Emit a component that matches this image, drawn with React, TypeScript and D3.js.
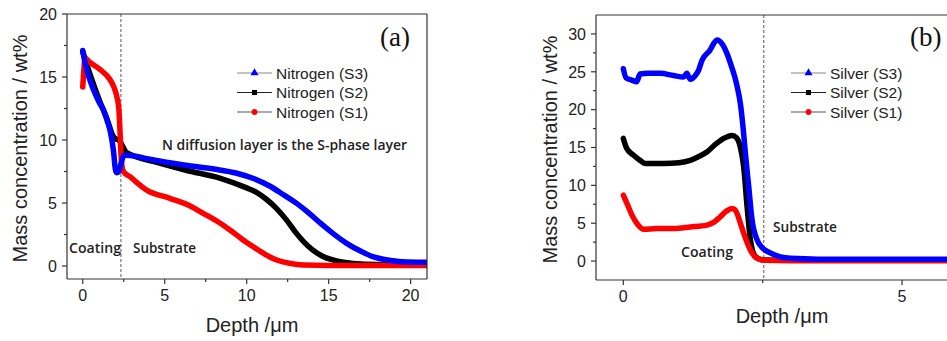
import React from "react";
import * as d3 from "d3";

type P = [number, number];

// Panel (a): Nitrogen depth profiles
const nitrogenS3: P[] = [[0,17.1],[0.2,15.8],[0.65,14],[1.0,13],[1.26,12.4],[1.5,11.5],[1.66,10.8],[1.87,9.2],[2.0,7.6],[2.07,7.4],[2.2,7.5],[2.35,8.2],[2.5,8.75],[2.7,8.8],[4,8.5],[5,8.25],[6.3,8.0],[8,7.7],[9.4,7.36],[10.5,6.9],[11.4,6.35],[12.2,5.7],[13.05,4.97],[13.8,4.2],[14.5,3.4],[15.3,2.55],[16.1,1.8],[17,1.15],[17.7,0.74],[18.5,0.5],[19.5,0.34],[21.2,0.3]];
const nitrogenS2: P[] = [[0,17],[0.15,16.4],[0.5,15],[1.0,13.2],[1.5,11.6],[1.85,10.3],[2.0,10.1],[2.2,10.0],[2.4,9.6],[2.6,9.1],[3,8.8],[4.3,8.3],[6.3,7.6],[8.4,6.96],[10,6.2],[10.6,5.85],[11.2,5.3],[11.8,4.6],[12.4,3.7],[13,2.65],[13.5,1.9],[14,1.3],[14.6,0.8],[15.2,0.5],[16.5,0.2],[18,0.12],[21.2,0.1]];
const nitrogenS1: P[] = [[0,14.2],[0.05,15.2],[0.14,16.5],[0.4,16.2],[1.05,15.6],[1.66,14.8],[1.9,14.2],[2.07,13.5],[2.2,12.5],[2.28,10.5],[2.35,8.5],[2.48,7.5],[2.88,7.09],[3.9,6.03],[5.32,5.37],[6.5,4.8],[7.35,4.18],[8.2,3.55],[8.98,2.86],[9.7,2.15],[10.4,1.53],[11.1,0.95],[11.83,0.48],[12.6,0.22],[13.45,0.08],[15,0.05],[21.2,0.05]];

// Panel (b): Silver depth profiles
const silverS3: P[] = [[0,25.4],[0.05,24.2],[0.15,23.9],[0.24,23.7],[0.3,24.7],[0.45,24.8],[0.66,24.8],[0.9,24.5],[1.08,24.3],[1.14,24.8],[1.2,24.0],[1.3,24.6],[1.35,25.2],[1.41,26.5],[1.55,27.8],[1.68,29.2],[1.78,28.6],[1.86,27.4],[1.95,25.5],[2.0,24.3],[2.05,22.8],[2.1,20.8],[2.15,17.5],[2.19,14.2],[2.25,9.8],[2.31,5.4],[2.4,2.8],[2.5,1.7],[2.6,1.2],[2.8,0.6],[3.0,0.36],[3.5,0.25],[6,0.25]];
const silverS2: P[] = [[0,16.2],[0.06,14.9],[0.18,14.0],[0.3,13.3],[0.39,12.9],[0.72,12.9],[1.0,13.0],[1.2,13.3],[1.35,13.8],[1.5,14.4],[1.65,15.4],[1.8,16.2],[1.95,16.6],[2.03,16.3],[2.1,15.0],[2.16,12.4],[2.22,7.2],[2.28,2.8],[2.37,0.6],[2.5,0.15],[3,0.1],[6,0.1]];
const silverS1: P[] = [[0,8.7],[0.09,7.2],[0.16,6.0],[0.24,5.0],[0.36,4.2],[0.6,4.3],[0.9,4.3],[1.2,4.5],[1.5,4.75],[1.62,5.1],[1.74,5.85],[1.85,6.6],[1.95,6.95],[2.0,6.8],[2.04,6.3],[2.1,5.0],[2.16,3.65],[2.28,1.45],[2.4,0.36],[2.55,0.1],[3,0.05],[6,0.05]];

const xTicksA = [0, 5, 10, 15, 20];
const xMinorA = [2.5, 7.5, 12.5, 17.5];
const yTicksA = [0, 5, 10, 15, 20];
const yMinorA = [2.5, 7.5, 12.5, 17.5];
const xTicksB = [0, 5];
const xMinorB = [2.5];
const yTicksB = [0, 5, 10, 15, 20, 25, 30];
const yMinorB = [2.5, 7.5, 12.5, 17.5, 22.5, 27.5];

const legendA = ["Nitrogen (S3)", "Nitrogen (S2)", "Nitrogen (S1)"];
const legendB = ["Silver (S3)", "Silver (S2)", "Silver (S1)"];
const colors = ["#0000ff", "#000000", "#ff0000"];
const legendLineColors = ["#888", "#222", "#555"];

const FONT = "'Liberation Sans', Arial, sans-serif";
const NOTE_FONT = "'Open Sans', 'Noto Sans', sans-serif";
const AXIS = "#333";

type PanelProps = {
  left: number; right: number; top: number; bottom: number;
  xDomain: [number, number]; yDomain: [number, number];
  xTicks: number[]; xMinor: number[]; yTicks: number[]; yMinor: number[];
  series: P[][]; legend: string[]; legendX: number;
  dashX: number; label: string; labelX: number;
  yLabelX: number; xLabelX: number; xLabelY: number;
  showRight: boolean; id: string;
  notes: { text: string; x: number; y: number; w: number }[];
};

function Panel(p: PanelProps) {
  const x = d3.scaleLinear().domain(p.xDomain).range([p.left, p.right]);
  const y = d3.scaleLinear().domain(p.yDomain).range([p.bottom, p.top]);
  const line = d3.line<P>().x(d => x(d[0])).y(d => y(d[1])).curve(d3.curveMonotoneX);
  const drawOrder = [1, 2, 0];
  const tri = d3.symbol().type(d3.symbolTriangle).size(28)() as string;
  const sq = d3.symbol().type(d3.symbolSquare).size(26)() as string;
  const circ = d3.symbol().type(d3.symbolCircle).size(26)() as string;
  const markers = [tri, sq, circ];
  return (
    <g>
      <defs>
        <clipPath id={p.id}>
          <rect x={p.left} y={p.top} width={p.right - p.left} height={p.bottom - p.top} />
        </clipPath>
      </defs>
      <g clipPath={`url(#${p.id})`}>
        <line x1={x(p.dashX)} x2={x(p.dashX)} y1={p.top} y2={p.bottom} stroke="#555" strokeWidth={1} strokeDasharray="3,2" />
        {drawOrder.map(i => (
          <path key={i} d={line(p.series[i]) || ""} fill="none" stroke={colors[i]} strokeWidth={5.5} strokeLinejoin="round" strokeLinecap="round" />
        ))}
      </g>
      <line x1={p.left} x2={p.right} y1={p.top} y2={p.top} stroke={AXIS} strokeWidth={1.2} />
      <line x1={p.left} x2={p.right} y1={p.bottom} y2={p.bottom} stroke={AXIS} strokeWidth={1.2} />
      <line x1={p.left} x2={p.left} y1={p.top} y2={p.bottom} stroke={AXIS} strokeWidth={1.2} />
      {p.showRight && <line x1={p.right} x2={p.right} y1={p.top} y2={p.bottom} stroke={AXIS} strokeWidth={1.2} />}
      {p.xTicks.map(t => (
        <g key={"xt" + t}>
          <line x1={x(t)} x2={x(t)} y1={p.bottom} y2={p.bottom + 5} stroke={AXIS} strokeWidth={1.2} />
          <text x={x(t)} y={p.bottom + 22} textAnchor="middle" fontFamily={FONT} fontSize={16} fill="#222">{t}</text>
        </g>
      ))}
      {p.xMinor.map(t => (
        <line key={"xm" + t} x1={x(t)} x2={x(t)} y1={p.bottom} y2={p.bottom + 3} stroke={AXIS} strokeWidth={1.2} />
      ))}
      {p.yTicks.map(t => (
        <g key={"yt" + t}>
          <line x1={p.left - 5} x2={p.left} y1={y(t)} y2={y(t)} stroke={AXIS} strokeWidth={1.2} />
          <text x={p.left - 10} y={y(t)} dy="0.36em" textAnchor="end" fontFamily={FONT} fontSize={16} fill="#222">{t}</text>
        </g>
      ))}
      {p.yMinor.map(t => (
        <line key={"ym" + t} x1={p.left - 3} x2={p.left} y1={y(t)} y2={y(t)} stroke={AXIS} strokeWidth={1.2} />
      ))}
      <text transform={`translate(${p.yLabelX},${(p.top + p.bottom) / 2 + 2}) rotate(-90)`} textAnchor="middle" fontFamily={FONT} fontSize={20} fill="#222">Mass concentration / wt%</text>
      <text x={p.xLabelX} y={p.xLabelY} textAnchor="middle" fontFamily={FONT} fontSize={20} fill="#222">Depth /μm</text>
      <text x={p.labelX} y={46} fontFamily="'Liberation Serif', 'Times New Roman', serif" fontSize={27} fill="#111">{p.label}</text>
      {p.legend.map((name, i) => {
        const ly = 73 + i * 19.5;
        return (
          <g key={name}>
            <line x1={p.legendX} x2={p.legendX + 35} y1={ly} y2={ly} stroke={legendLineColors[i]} strokeWidth={1.2} />
            <path d={markers[i]} transform={`translate(${p.legendX + 17.5},${ly})`} fill={colors[i]} />
            <text x={p.legendX + 39} y={ly} dy="0.36em" fontFamily={FONT} fontSize={15.5} fill="#222">{name}</text>
          </g>
        );
      })}
      {p.notes.map(n => (
        <text key={n.text} x={n.x} y={n.y} dy="0.36em" fontFamily={NOTE_FONT} fontSize={14} fontWeight={600} fill="#222" textLength={n.w} lengthAdjust="spacingAndGlyphs">{n.text}</text>
      ))}
    </g>
  );
}

export default function App() {
  return (
    <svg width={947} height={341} style={{ display: "block", position: "absolute", left: 0, top: 0, background: "#fff" }}>
      <rect width={947} height={341} fill="#fff" />
      <Panel id="clipA" left={67} right={427} top={14} bottom={279}
        xDomain={[-0.96, 21]} yDomain={[-1.03, 20]}
        xTicks={xTicksA} xMinor={xMinorA} yTicks={yTicksA} yMinor={yMinorA}
        series={[nitrogenS3, nitrogenS2, nitrogenS1]} legend={legendA} legendX={237}
        dashX={2.33} label="(a)" labelX={380} yLabelX={27} xLabelX={252} xLabelY={332}
        showRight={true}
        notes={[
          { text: "N diffusion layer is the S-phase layer", x: 162, y: 145, w: 245 },
          { text: "Coating", x: 69, y: 248, w: 52 },
          { text: "Substrate", x: 133, y: 248, w: 63 },
        ]} />
      <Panel id="clipB" left={596} right={955} top={15} bottom={280}
        xDomain={[-0.49, 5.95]} yDomain={[-2.5, 32.5]}
        xTicks={xTicksB} xMinor={xMinorB} yTicks={yTicksB} yMinor={yMinorB}
        series={[silverS3, silverS2, silverS1]} legend={legendB} legendX={791}
        dashX={2.52} label="(b)" labelX={910} yLabelX={557} xLabelX={782} xLabelY={323}
        showRight={false}
        notes={[
          { text: "Substrate", x: 773, y: 227, w: 64 },
          { text: "Coating", x: 681, y: 252, w: 52 },
        ]} />
    </svg>
  );
}
